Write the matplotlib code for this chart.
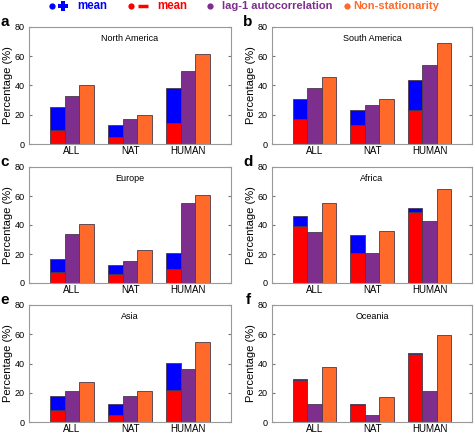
import matplotlib
matplotlib.use('Agg')
import matplotlib.pyplot as plt
from matplotlib.lines import Line2D
import numpy as np

plt.rcParams['font.family'] = ['Liberation Sans', 'DejaVu Sans']

groups = ['ALL', 'NAT', 'HUMAN']
regions = ['North America', 'South America', 'Europe', 'Africa', 'Asia', 'Oceania']
letters = ['a', 'b', 'c', 'd', 'e', 'f']

# total significant mean change (red part = decreasing mean, rest = increasing)
mean_total = [[25.5, 13, 38], [31, 23, 43.5], [16.5, 12.5, 21],
              [46, 33, 52], [18, 12, 40.5], [29.5, 12, 47]]
mean_neg = [[9.5, 4.5, 14.5], [17, 13, 23], [7.5, 6, 9.5],
            [39.5, 21, 49], [8, 4.5, 22], [28.5, 11.5, 46.5]]
lag1 = [[33, 17, 50], [38, 27, 54], [34, 15.5, 55],
        [35.5, 21, 43], [21.5, 17.5, 36.5], [12.5, 4.5, 21]]
nonstat = [[40.5, 19.5, 61.5], [46, 30.5, 69], [40.5, 22.5, 61],
           [55, 36, 64.5], [27.5, 21, 55], [37.5, 17, 59.5]]

c_blue = '#0000FF'
c_red = '#FF0000'
c_purple = '#7E2F8E'
c_orange = '#FF6A2B'
edge = '#4a3a4a'

W, H = 475, 433
fig = plt.figure(figsize=(W / 100, H / 100), dpi=100)

# axes boxes in pixels: (left, right) and (top, bottom)
cols = [(29, 231), (272, 472)]
rows = [(27, 144), (167, 283), (305, 422)]

x = np.arange(1, 4)
bw = 0.25
for k in range(6):
    r, c = k // 2, k % 2
    l, rr = cols[c]
    t, b = rows[r]
    ax = fig.add_axes([l / W, 1 - b / H, (rr - l) / W, (b - t) / H])
    neg = np.array(mean_neg[k])
    pos = np.array(mean_total[k]) - neg
    ax.bar(x - bw, neg, bw, color=c_red, edgecolor=edge, linewidth=0.6)
    ax.bar(x - bw, pos, bw, bottom=neg, color=c_blue, edgecolor=edge, linewidth=0.6)
    ax.bar(x, lag1[k], bw, color=c_purple, edgecolor=edge, linewidth=0.6)
    ax.bar(x + bw, nonstat[k], bw, color=c_orange, edgecolor=edge, linewidth=0.6)
    ax.set_xlim(0.26, 3.74)
    ax.set_ylim(0, 80)
    ax.set_yticks([0, 20, 40, 60, 80])
    ax.set_xticks(x)
    ax.set_xticklabels(groups, fontsize=7)
    ax.tick_params(axis='y', labelsize=6.5, direction='in', right=True, length=2.5,
                   pad=3, color='#777777')
    ax.tick_params(axis='x', direction='in', length=0, pad=1.5)
    for s in ax.spines.values():
        s.set_color('#999999')
        s.set_linewidth(0.8)
    ax.set_ylabel('Percentage (%)', fontsize=8, labelpad=1)
    ax.text(0.5, 0.9, regions[k], transform=ax.transAxes, ha='center', va='center',
            fontsize=6.5)
    fig.text((l - 24) / W, 1 - (t - 5) / H, letters[k], fontsize=11, fontweight='bold',
             ha='center', va='center')

# legend row
ly = 1 - 6 / H


def mark(px, color, marker, size, mew=0):
    fig.add_artist(Line2D([px / W], [ly], transform=fig.transFigure, marker=marker,
                          markersize=size, color=color, markeredgewidth=mew,
                          linestyle='none'))


mark(52, c_blue, 'o', 4.5)
mark(63, c_blue, 'P', 7.5)
fig.text(77 / W, ly, 'mean', color=c_blue, fontsize=8.3, fontweight='bold', ha='left', va='center')
mark(131, c_red, 'o', 4.5)
mark(143, c_red, '_', 7, mew=2.5)
fig.text(157 / W, ly, 'mean', color=c_red, fontsize=8.3, fontweight='bold', ha='left', va='center')
mark(210, c_purple, 'o', 4.5)
fig.text(222 / W, ly, 'lag-1 autocorrelation', color=c_purple, fontsize=8, fontweight='bold',
         ha='left', va='center')
mark(347, c_orange, 'o', 4.5)
fig.text(353 / W, ly, 'Non-stationarity', color=c_orange, fontsize=8, fontweight='bold',
         ha='left', va='center')

fig.savefig('out.png', dpi=100)
